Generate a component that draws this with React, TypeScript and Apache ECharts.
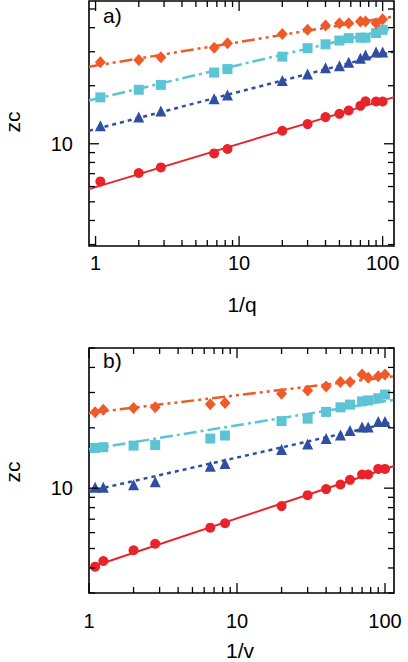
import React, { useEffect, useRef } from "react";
import * as echarts from "echarts";

// ---------- data ----------
// panel a) : x = 1/q
const invQ = [1.08, 2, 2.85, 6.7, 8.3, 20, 30, 40, 50, 58, 70, 76, 90, 100];
const redA = [6.38, 7.05, 7.54, 8.91, 9.39, 11.68, 12.65, 13.75, 14.3, 14.88, 15.73, 16.6, 16.56, 16.56];
const blueA = [12.4, 13.75, 14.8, 17.1, 17.9, 21.3, 23.0, 24.8, 25.4, 26.5, 27.8, 28.9, 29.9, 29.9];
const cyanA = [17.4, 19.05, 20.2, 23.4, 24.4, 28.3, 31.3, 32.8, 34.3, 35.3, 35.5, 35.5, 37.5, 39.0];
const orangeA = [26.5, 27.2, 28.1, 31.5, 33.2, 37.1, 39.0, 41.0, 42.2, 42.2, 43.0, 43.0, 42.2, 44.2];
const fitXA = [0.9, 120];
const fitRedA = [5.82, 17.46];
const fitBlueA = [11.67, 30.1];
const fitCyanA = [16.76, 39.8];
const fitOrangeA = [25.1, 45.7];

// panel b) : x = 1/v
const invV = [1.1, 1.25, 2, 2.8, 6.6, 8.3, 20, 30, 40, 50, 58, 70, 77, 90, 100];
const redB = [4.06, 4.33, 4.9, 5.28, 6.35, 6.68, 8.14, 9.23, 9.89, 10.43, 11.0, 11.7, 11.7, 12.47, 12.47];
const blueB = [10.1, 10.1, 10.4, 10.75, 12.86, 13.27, 15.6, 16.6, 17.7, 18.4, 19.4, 20.2, 20.2, 21.5, 21.5];
const cyanB = [15.87, 16.0, 16.3, 16.4, 17.67, 18.3, 21.6, 22.2, 24.0, 25.3, 26.1, 27.1, 27.4, 28.1, 29.3];
const orangeB = [23.9, 24.6, 25.1, 25.3, 26.2, 26.6, 29.6, 30.7, 32.1, 33.8, 33.8, 36.9, 35.5, 36.1, 36.9];
const fitXB = [1, 115];
const fitRedB = [4.01, 12.9];
const fitBlueB = [9.66, 21.4];
const fitCyanB = [15.6, 27.6];
const fitOrangeB = [23.7, 36.1];

// axes
const xRangeA = [0.9, 120];
const yRangeA = [2.95, 55];
const xRangeB = [1, 115];
const yRangeB = [3, 50];
const xMajorTicks = [1, 10, 100];
const xMinorTicks = [2, 3, 4, 5, 6, 7, 8, 9, 20, 30, 40, 50, 60, 70, 80, 90];
const yMajorTicks = [10];
const yMinorTicks = [3, 4, 5, 6, 7, 8, 9, 20, 30, 40, 50];

const FONT = "'Liberation Sans', Arial, Helvetica, sans-serif";
const RED = "#e8232a";
const BLUE = "#2f4fa2";
const CYAN = "#5cc4d4";
const ORANGE = "#ef5a28";

function zip(xs: number[], ys: number[]) {
  return xs.map((x, i) => [x, ys[i]]);
}

function decadeLabel(v: number) {
  const l = Math.log10(v);
  if (Math.abs(l - Math.round(l)) < 1e-6) return String(Math.round(Math.pow(10, Math.round(l))));
  return "";
}

function tickData(xr: number[], yr: number[]) {
  const d: number[][] = [];
  xMinorTicks.forEach((v) => { if (v >= xr[0] && v <= xr[1]) d.push([v, yr[0], 0]); });
  xMajorTicks.forEach((v) => { if (v >= xr[0] && v <= xr[1]) d.push([v, yr[0], 1]); });
  yMinorTicks.forEach((v) => { if (v >= yr[0] && v <= yr[1]) d.push([xr[0], v, 2]); });
  yMajorTicks.forEach((v) => { if (v >= yr[0] && v <= yr[1]) d.push([xr[0], v, 3]); });
  return d;
}

function tickSeries(gi: number, xr: number[], yr: number[]) {
  return {
    type: "custom",
    xAxisIndex: gi,
    yAxisIndex: gi,
    silent: true,
    clip: false,
    z: 5,
    data: tickData(xr, yr),
    renderItem: (params: any, api: any) => {
      const cs = params.coordSys;
      const kind = api.value(2);
      const len = kind % 2 === 1 ? 10 : 6;
      const st = { stroke: "#000", lineWidth: 1.3 };
      if (kind < 2) {
        const px = api.coord([api.value(0), api.value(1)])[0];
        const b = cs.y + cs.height;
        return {
          type: "group",
          children: [
            { type: "line", shape: { x1: px, y1: b, x2: px, y2: b - len }, style: st },
            { type: "line", shape: { x1: px, y1: cs.y, x2: px, y2: cs.y + len }, style: st },
          ],
        };
      }
      const py = api.coord([api.value(0), api.value(1)])[1];
      const r = cs.x + cs.width;
      return {
        type: "group",
        children: [
          { type: "line", shape: { x1: cs.x, y1: py, x2: cs.x + len, y2: py }, style: st },
          { type: "line", shape: { x1: r, y1: py, x2: r - len, y2: py }, style: st },
        ],
      };
    },
  };
}

function panelSeries(gi: number, xs: number[], ys: number[][], fitX: number[], fits: number[][]) {
  const colors = [RED, BLUE, CYAN, ORANGE];
  const symbols = ["circle", "triangle", "rect", "diamond"];
  const sizes: any[] = [10, 11, 10, [11, 12]];
  const dashes: any[] = ["solid", [4, 4], [13, 4, 3, 4], [13, 4, 3, 4, 3, 4]];
  const out: any[] = [];
  for (let k = 0; k < 4; k++) {
    out.push({
      type: "line",
      xAxisIndex: gi,
      yAxisIndex: gi,
      data: zip(fitX, fits[k]),
      showSymbol: false,
      symbol: "none",
      silent: true,
      z: 2,
      lineStyle: { color: colors[k], width: k === 0 ? 2 : 2.5, type: dashes[k] },
    });
    out.push({
      type: "scatter",
      xAxisIndex: gi,
      yAxisIndex: gi,
      data: zip(xs, ys[k]),
      symbol: symbols[k],
      symbolSize: sizes[k],
      z: 3,
      itemStyle: { color: colors[k], opacity: 1 },
    });
  }
  return out;
}

function xAxisCfg(gi: number, r: number[], margin: number) {
  return {
    type: "log",
    logBase: 10,
    gridIndex: gi,
    min: r[0],
    max: r[1],
    axisLine: { show: false },
    axisTick: { show: false },
    splitLine: { show: false },
    minorTick: { show: false },
    axisLabel: {
      fontSize: 20,
      color: "#000",
      fontFamily: FONT,
      margin,
      formatter: decadeLabel,
    },
  };
}

function yAxisCfg(gi: number, r: number[]) {
  return {
    type: "log",
    logBase: 10,
    gridIndex: gi,
    min: r[0],
    max: r[1],
    axisLine: { show: false },
    axisTick: { show: false },
    splitLine: { show: false },
    minorTick: { show: false },
    axisLabel: {
      fontSize: 20,
      color: "#000",
      fontFamily: FONT,
      margin: 16,
      formatter: decadeLabel,
    },
  };
}

function txt(text: string, x: number, y: number, align: string, size: number, rotation = 0) {
  return {
    type: "text",
    x,
    y,
    rotation,
    silent: true,
    style: {
      text,
      fill: "#000",
      fontSize: size,
      fontFamily: FONT,
      align,
      verticalAlign: "middle",
      textAlign: align,
      textVerticalAlign: "middle",
    },
  };
}

const option: any = {
  animation: false,
  backgroundColor: "#fff",
  grid: [
    { left: 89, top: 1, width: 305, height: 245, show: true, borderColor: "#000", borderWidth: 1.6, backgroundColor: "transparent" },
    { left: 89, top: 348, width: 305, height: 245, show: true, borderColor: "#000", borderWidth: 1.6, backgroundColor: "transparent" },
  ],
  xAxis: [xAxisCfg(0, xRangeA, 7), xAxisCfg(1, xRangeB, 18)],
  yAxis: [yAxisCfg(0, yRangeA), yAxisCfg(1, yRangeB)],
  series: [
    ...panelSeries(0, invQ, [redA, blueA, cyanA, orangeA], fitXA, [fitRedA, fitBlueA, fitCyanA, fitOrangeA]),
    ...panelSeries(1, invV, [redB, blueB, cyanB, orangeB], fitXB, [fitRedB, fitBlueB, fitCyanB, fitOrangeB]),
    tickSeries(0, xRangeA, yRangeA),
    tickSeries(1, xRangeB, yRangeB),
  ],
  graphic: [
    txt("a)", 103, 15, "left", 21),
    txt("b)", 103, 360, "left", 21),
    txt("1/q", 242, 304, "center", 21),
    txt("1/v", 240, 650, "center", 21),
    txt("zc", 12, 122, "center", 21, Math.PI / 2),
    txt("zc", 12, 472, "center", 21, Math.PI / 2),
  ],
};

export default function App() {
  const ref = useRef<HTMLDivElement>(null);
  useEffect(() => {
    if (!ref.current) return;
    const chart = echarts.init(ref.current, null, { renderer: "svg" });
    chart.setOption(option);
    return () => chart.dispose();
  }, []);
  return (
    <div
      ref={ref}
      style={{ position: "fixed", left: 0, top: 0, width: 408, height: 662, background: "#fff" }}
    />
  );
}
